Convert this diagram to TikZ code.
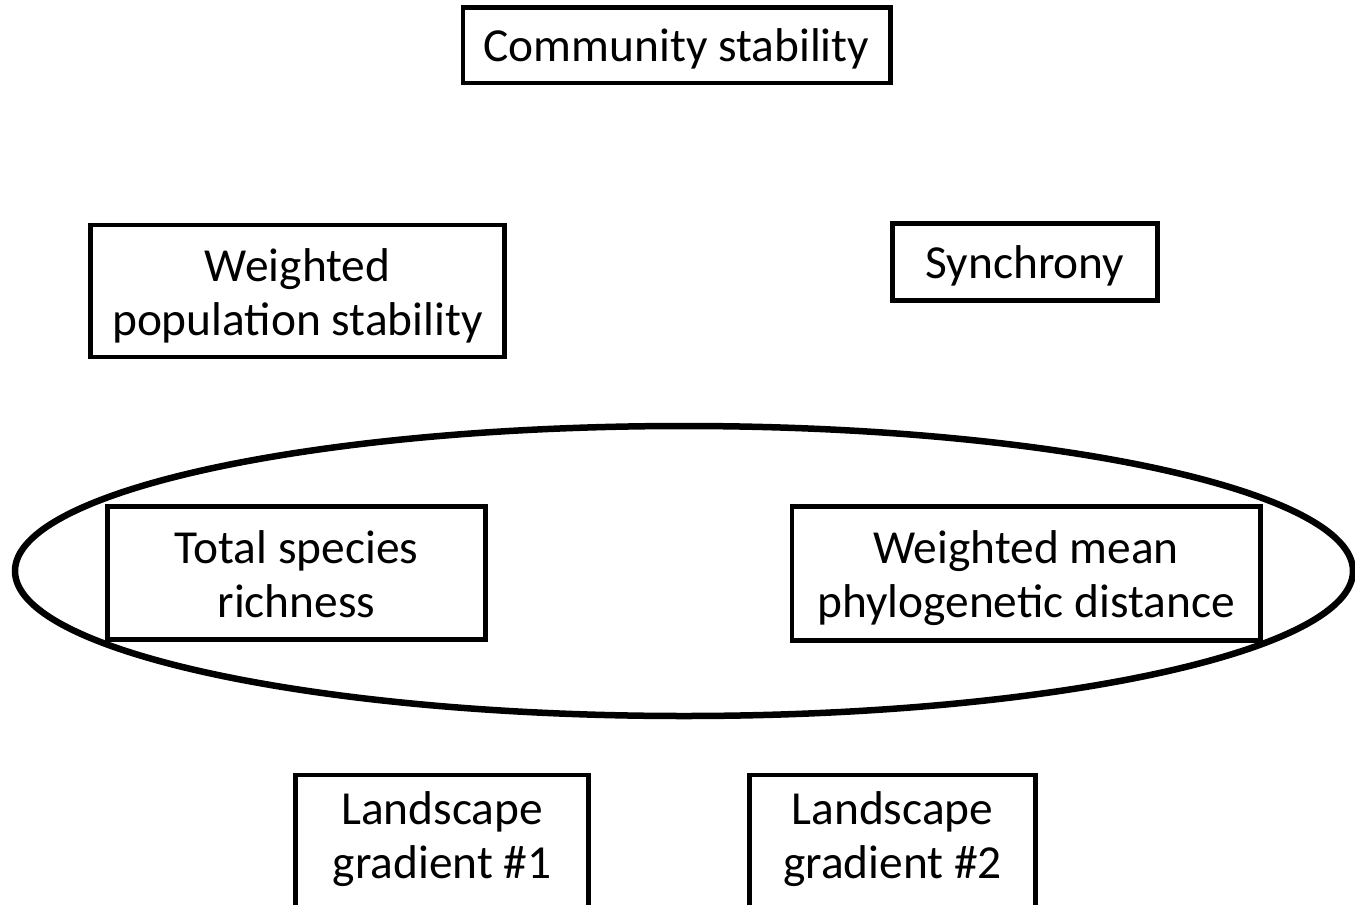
\documentclass[tikz,border=0pt]{standalone}
\usepackage{fontspec}
\setmainfont{Carlito}

\begin{document}
\begin{tikzpicture}[x=0.5pt,y=-0.5pt,
    box/.style={draw, line width=2.25pt, fill=white, align=center, inner sep=0pt,
                text depth=0pt, font=\fontsize{23.7}{27}\selectfont},
    oneline/.style={text height=16.5pt},
    twoline/.style={text height=44pt}]
  \useasboundingbox (0,0) rectangle (1355,905);

  % ellipse grouping the two diversity measures
  \draw[line width=3.25pt] (684,571) ellipse [x radius=669, y radius=145];

  \node[box, oneline, minimum width=213.75pt, minimum height=37.75pt] (comm) at (676.5,45) {Community stability};

  \node[box, twoline, minimum width=207pt, minimum height=66pt] (wpop) at (297.5,291) {Weighted\\population stability};
  \node[box, oneline, minimum width=132.5pt, minimum height=38.5pt] (sync) at (1025,262) {Synchrony};

  \node[box, twoline, minimum width=189pt, minimum height=66.5pt] (rich) at (296.5,573) {Total species\\richness};
  \node[box, twoline, minimum width=234.25pt, minimum height=67pt] (wmpd) at (1026,573.5) {Weighted mean\\phylogenetic distance};

  % landscape boxes run off the bottom edge
  \foreach \name/\x/\w/\n in {lg1/442/146.5/1, lg2/892.5/143/2}
    \node[box, anchor=north, minimum width=\w pt, text height=52pt, text depth=60pt] (\name) at (\x,772.5) {Landscape\\gradient \#\n};
\end{tikzpicture}
\end{document}
